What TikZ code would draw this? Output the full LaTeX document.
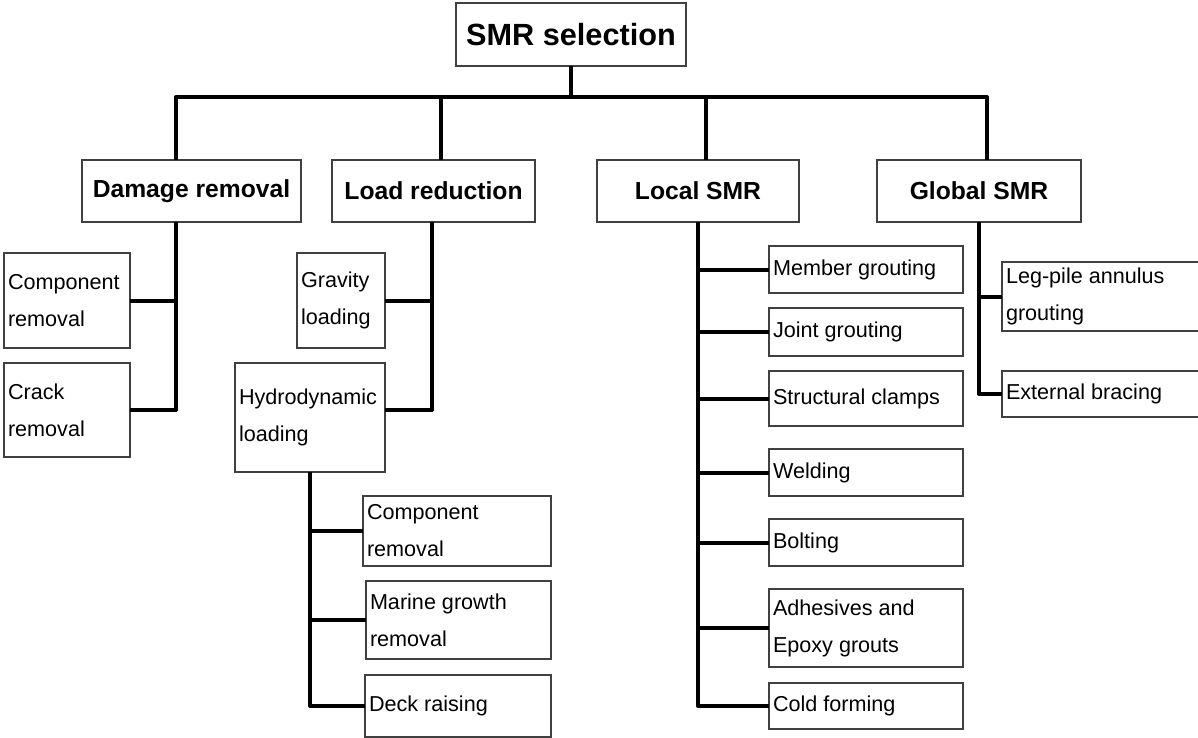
\documentclass[tikz,border=0pt]{standalone}
\usepackage{fontspec}
\setmainfont{Liberation Sans}
\usepackage{tikz}
\usetikzlibrary{positioning}

\begin{document}
\begin{tikzpicture}[x=0.75pt,y=-0.75pt,
    conn/.style={line width=3pt,line join=round},
    head/.style={draw=black!75,line width=1.1pt,outer sep=0pt,anchor=north west,font=\bfseries\fontsize{23}{28}\selectfont,minimum width=172.5pt,minimum height=47.25pt},
    group/.style={draw=black!75,line width=1.1pt,outer sep=0pt,anchor=north west,font=\bfseries\fontsize{18.5}{22}\selectfont,minimum height=46.5pt},
    item/.style={draw=black!75,line width=1.1pt,outer sep=0pt,anchor=north west,font=\fontsize{16.2}{27.75}\selectfont,align=flush left,inner xsep=3pt,inner ysep=0pt}]
  \useasboundingbox (0,0) rectangle (1198,738);
  \clip (0,0) rectangle (1198,738);

  % top and the four groups
  \node[head](smr) at (456,3) {SMR selection};
  \node[group,minimum width=164.25pt](dmg) at (82,160) {Damage removal};
  \node[group,minimum width=152.25pt](load) at (332,160) {Load reduction};
  \node[group,minimum width=151.5pt](local) at (597,160) {Local SMR};
  \node[group,minimum width=153pt](global) at (877,160) {Global SMR};

  % damage removal
  \node[item,text width=88.5pt,minimum height=71.25pt](comprem) at (4,253) {Component\\removal};
  \node[item,text width=88.5pt,minimum height=70.5pt](crack) at (4,363) {Crack\\removal};

  % load reduction
  \node[item,text width=60pt,minimum height=71.25pt](gravity) at (297,253) {Gravity\\loading};
  \node[item,text width=106.5pt,minimum height=81.75pt](hydro) at (235,363) {Hydrodynamic\\loading};
  \node[item,text width=135pt,minimum height=52.5pt](hcomprem) at (363,496) {Component\\removal};
  \node[item,text width=132.75pt,minimum height=58.5pt](marine) at (366,581) {Marine growth\\removal};
  \node[item,text width=133.5pt,minimum height=46.5pt](deck) at (365,675) {Deck raising};

  % local SMR
  \node[item,text width=139.5pt,minimum height=35.25pt](member) at (769,246) {Member grouting};
  \node[item,text width=139.5pt,minimum height=36pt,below=11.25pt of member](joint) {Joint grouting};
  \node[item,text width=139.5pt,minimum height=41.25pt,below=11.25pt of joint](clamps) {Structural clamps};
  \node[item,text width=139.5pt,minimum height=35.25pt,below=17.25pt of clamps](welding) {Welding};
  \node[item,text width=139.5pt,minimum height=35.25pt,below=17.25pt of welding](bolting) {Bolting};
  \node[item,text width=139.5pt,minimum height=58.5pt,below=17.25pt of bolting](adhesive) {Adhesives and\\Epoxy grouts};
  \node[item,text width=139.5pt,minimum height=34.5pt,below=12pt of adhesive](cold) {Cold forming};

  % global SMR
  \node[item,text width=150pt,minimum height=51.75pt](legpile) at (1002,262) {Leg-pile annulus\\grouting};
  \node[item,text width=150pt,minimum height=34.5pt](external) at (1002,371) {External bracing};

  % connectors
  \path (smr.south) ++(0,31) coordinate (bus);
  \draw[conn] (smr.south) -- (bus);
  \draw[conn] ([xshift=-11.6pt]dmg.north) |- (bus) -| ([xshift=6pt]global.north);
  \draw[conn] ([xshift=5.6pt]load.north) -- ([xshift=5.6pt]load.north |- bus);
  \draw[conn] ([xshift=6pt]local.north) -- ([xshift=6pt]local.north |- bus);

  \coordinate (dmgstem) at ([xshift=-11.6pt]dmg.south);
  \draw[conn] (dmgstem) |- (crack.east);
  \draw[conn] (comprem.east) -- (comprem.east -| dmgstem);

  \coordinate (loadstem) at ([xshift=-1.1pt]load.south);
  \draw[conn] (loadstem) |- ([yshift=5.6pt]hydro.east);
  \draw[conn] (gravity.east) -- (gravity.east -| loadstem);

  \draw[conn] (hydro.south) |- (deck.west);
  \draw[conn] (hcomprem.west) -- (hcomprem.west -| hydro.south);
  \draw[conn] (marine.west) -- (marine.west -| hydro.south);

  \draw[conn] (local.south) |- (cold.west);
  \draw[conn] (member.west) -- (member.west -| local.south);
  \draw[conn] (joint.west) -- (joint.west -| local.south);
  \draw[conn] (clamps.west) -- (clamps.west -| local.south);
  \draw[conn] (welding.west) -- (welding.west -| local.south);
  \draw[conn] (bolting.west) -- (bolting.west -| local.south);
  \draw[conn] (adhesive.west) -- (adhesive.west -| local.south);

  \draw[conn] (global.south) |- (external.west);
  \draw[conn] (legpile.west) -- (legpile.west -| global.south);
\end{tikzpicture}
\end{document}
